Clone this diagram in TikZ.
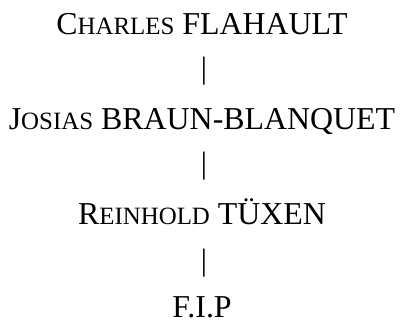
\documentclass[tikz,border=0pt]{standalone}
\usepackage{fontspec}
\setmainfont{Liberation Serif}
\newcommand{\fsc}[2]{#1{\fontsize{25}{25}\selectfont #2}}
\begin{document}
\begin{tikzpicture}[x=1bp,y=1bp,
  person/.style={anchor=base,inner sep=0pt,font=\fontsize{32}{32}\selectfont},
  barmark/.style={anchor=center,inner sep=0pt,font=\fontsize{31}{31}\selectfont}]
\useasboundingbox (0,0) rectangle (401,321);
\node[person] (a) at (202,321-34) {\fsc{C}{HARLES} FLAHAULT};
\node[barmark] (b1) at (204,321-71.5) {|};
\node[person] (b) at (202,321-129) {\fsc{J}{OSIAS} BRAUN-BLANQUET};
\node[barmark] (b2) at (204,321-166.5) {|};
\node[person] (c) at (202,321-224) {\fsc{R}{EINHOLD} TÜXEN};
\node[barmark] (b3) at (204,321-263) {|};
\node[person] (d) at (202,321-317.5) {F.I.P};
\end{tikzpicture}
\end{document}
